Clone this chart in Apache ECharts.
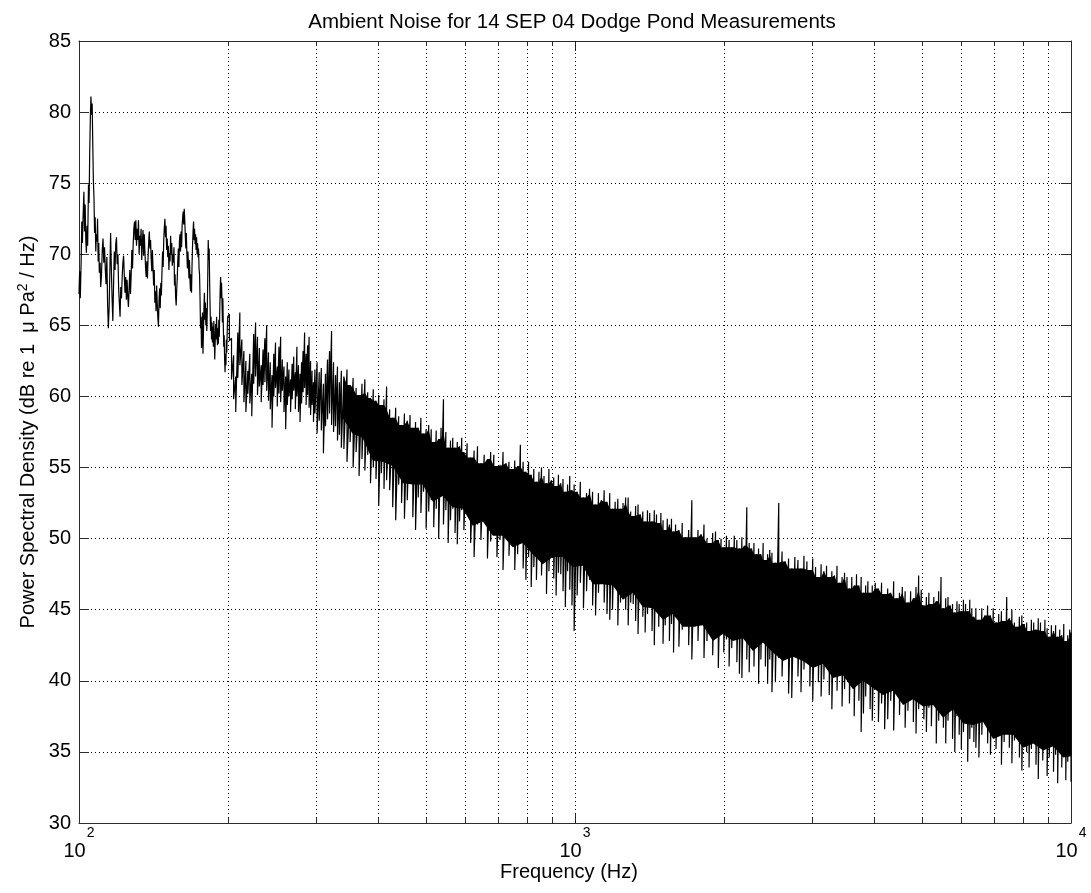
<!DOCTYPE html>
<html>
<head>
<meta charset="utf-8">
<title>Ambient Noise for 14 SEP 04 Dodge Pond Measurements</title>
<script src="https://cdn.jsdelivr.net/npm/echarts@6/dist/echarts.min.js"></script>
<style>
  html, body { margin: 0; padding: 0; background: #ffffff; }
  #chart { width: 1091px; height: 893px; }
</style>
</head>
<body>
<div id="chart"></div>
<script>
// ---- Spectrum below 200 Hz: single trace (Hz, dB re 1 uPa^2/Hz) ----
const lowFreq = [
  100.0,100.3,100.6,101.0,101.3,101.6,101.9,102.3,102.6,102.9,
  103.2,103.5,103.8,104.1,104.5,104.8,105.1,105.4,105.7,106.0,
  106.3,106.6,106.9,107.2,107.5,107.8,108.1,108.4,108.7,109.0,
  109.3,109.6,109.9,110.3,110.6,111.0,111.4,111.8,112.2,112.6,
  113.0,113.4,113.8,114.2,114.6,115.0,115.4,115.8,116.2,116.6,
  117.0,117.4,117.8,118.2,118.6,119.0,119.4,119.8,120.2,120.6,
  121.0,121.4,121.8,122.2,122.6,123.0,123.4,123.8,124.2,124.6,
  125.0,125.4,125.8,126.2,126.6,127.0,127.4,127.8,128.2,128.6,
  129.0,129.4,129.8,130.2,130.6,131.0,131.4,131.8,132.2,132.6,
  133.0,133.4,133.8,134.2,134.6,135.0,135.4,135.8,136.2,136.6,
  137.0,137.4,137.8,138.2,138.6,139.0,139.4,139.8,140.2,140.6,
  141.0,141.4,141.8,142.2,142.6,143.0,143.4,143.8,144.2,144.6,
  145.0,145.4,145.8,146.2,146.6,147.0,147.4,147.8,148.2,148.6,
  149.0,149.4,149.8,150.2,150.6,151.0,151.4,151.8,152.2,152.6,
  153.0,153.4,153.8,154.2,154.6,155.0,155.4,155.8,156.2,156.6,
  157.0,157.4,157.8,158.2,158.6,159.0,159.4,159.8,160.2,160.6,
  161.0,161.4,161.8,162.2,162.6,163.0,163.4,163.8,164.2,164.6,
  165.0,165.4,165.8,166.2,166.6,167.0,167.4,167.8,168.2,168.6,
  169.0,169.4,169.8,170.2,170.6,171.0,171.4,171.8,172.2,172.6,
  173.0,173.4,173.8,174.2,174.6,175.0,175.4,175.8,176.2,176.6,
  177.0,177.4,177.8,178.2,178.6,179.0,179.4,179.8,180.2,180.6,
  181.0,181.4,181.8,182.2,182.6,183.0,183.4,183.8,184.2,184.6,
  185.0,185.4,185.8,186.2,186.6,187.0,187.4,187.8,188.2,188.6,
  189.0,189.4,189.8,190.2,190.6,191.0,191.4,191.8,192.2,192.6,
  193.0,193.4,193.8,194.2,194.6,195.0,195.4,195.8,196.2,196.6,
  197.0,197.4,197.8,198.2,198.6,199.0,199.4
];
const lowDb = [
  67.2,68.8,66.9,69.5,72.3,70.8,72.6,74.4,71.6,73.5,
  71.0,70.1,72.0,70.6,74.9,73.6,77.2,79.5,81.1,79.8,
  80.6,77.8,75.2,74.0,71.5,72.6,70.2,71.4,70.9,72.5,
  69.5,70.8,68.7,69.4,67.7,68.5,70.3,71.1,69.4,70.5,
  68.9,67.9,69.8,66.5,64.8,66.2,68.8,71.5,69.0,66.9,
  65.3,67.8,70.2,68.9,70.7,71.2,69.3,70.0,67.6,66.6,
  65.6,67.7,66.9,68.4,69.4,69.9,68.5,67.3,68.4,66.8,
  68.2,67.0,66.3,67.6,68.9,67.2,68.5,70.3,69.0,70.7,
  71.8,72.3,71.0,72.4,70.6,71.8,71.0,72.4,70.0,71.3,
  70.6,71.8,69.6,70.8,71.7,69.9,71.4,70.2,69.1,68.4,
  69.5,68.3,69.8,70.9,71.6,70.4,71.0,69.7,68.8,70.3,
  69.0,67.8,68.9,66.6,67.4,66.0,67.8,66.5,65.5,64.9,
  66.8,67.6,66.2,68.0,67.1,68.8,70.2,69.1,71.0,71.9,
  72.5,71.2,72.0,70.3,71.1,69.8,70.6,68.9,70.1,69.5,
  71.3,70.0,70.8,69.2,70.0,69.4,70.5,67.8,68.6,67.0,
  66.4,67.5,68.3,69.6,70.4,69.1,70.9,71.4,70.2,71.6,
  70.5,72.0,72.6,73.0,72.1,73.2,72.4,71.3,70.4,71.5,
  70.0,69.0,70.2,69.4,68.3,69.6,68.2,67.4,68.6,67.3,
  69.2,70.6,71.6,72.3,71.0,71.8,70.7,71.4,70.3,71.2,
  70.0,70.8,69.8,70.4,69.0,68.6,66.9,64.8,65.6,63.4,
  64.2,65.9,63.0,64.5,66.2,67.3,65.4,66.6,65.0,66.2,
  64.6,66.0,68.4,71.0,69.6,70.4,68.0,66.2,64.6,65.6,
  64.0,65.2,63.8,64.9,63.5,65.3,64.1,62.6,63.9,65.1,
  64.0,65.6,64.3,63.6,64.8,63.7,65.4,64.2,66.0,67.5,
  68.4,66.9,68.0,66.8,65.2,66.9,65.0,63.5,64.3,62.6,
  61.7,63.0,62.2,64.0,63.1,64.6,65.6
];

// ---- Spectrum from 200 Hz up: local maximum and minimum in each frequency bin ----
const bandFreq = [
  201,203,205,207,209,211,213,215,217,219,221,223,225,227,229,231,233,235,237,239,
  241,243,245,247,249,251,253,255,257,259,261,263,265,267,269,271,273,275,277,279,
  281,283,285,287,289,291,293,295,297,299,302,305,308,311,314,317,320,323,326,329,
  332,335,338,
  342,347,352,357,362,367,372,377,382,387,392,397,402,407,412,417,
  423,429,435,441,447,453,459,465,471,477,483,489,495,501,507,513,519,525,531,537,
  543,549,555,561,567,573,579,585,591,597,
  606,616,626,636,646,656,666,676,686,696,706,716,726,736,746,756,766,776,786,796,
  806,816,826,836,846,856,866,876,886,896,906,916,926,936,946,956,966,976,986,996,
  1010,1025,1040,1055,1070,1085,1100,1115,1130,1145,1160,1175,1190,1205,1220,1235,1250,1265,1280,1295,
  1310,1325,1340,1355,1370,1385,1400,1415,1430,1445,1460,1475,1490,1505,1520,1535,1550,1565,1580,1595,
  1620,1645,1670,1695,1720,1745,1770,1795,1820,1845,1870,1895,1920,1945,1970,1995,2020,2045,2070,2095,
  2120,2145,2170,2195,2220,2245,2270,2295,2320,2345,2370,2395,2420,2445,2470,2495,
  2535,2575,2615,2655,2695,2735,2775,2815,2855,2895,2935,2975,3015,3055,3095,3135,3175,3215,3255,3295,
  3335,3375,3415,3455,3495,3535,3575,3615,3655,3695,3735,3775,3815,3855,3895,3935,3975,
  4030,4090,4150,4210,4270,4330,4390,4450,4510,4570,4630,4690,4750,4810,4870,4930,4990,5050,5110,5170,
  5230,5290,5350,5410,5470,5530,5590,5650,5710,5770,5830,5890,5950,6010,6070,6130,6190,6250,6310,6370,
  6430,6520,6610,6700,6790,6880,6970,7060,7150,7240,7330,7420,7510,7600,7690,7780,7870,7960,8050,8140,
  8230,8320,8410,8500,8590,8680,8770,8860,8950,9040,9130,9220,9310,9400,9490,9580,9670,9760,9850,9940,
  10000
];
const bandTop = [
  65.8,64.1,62.9,61.4,64.5,65.9,64.0,63.2,62.5,61.8,63.0,61.6,64.4,65.2,64.2,63.4,62.2,63.3,64.1,65.0,
  63.1,62.4,61.5,63.0,63.8,62.1,63.5,64.2,62.6,62.1,61.4,62.4,61.9,61.2,62.3,62.8,61.7,63.5,62.2,61.6,
  62.4,63.2,64.5,63.0,63.6,64.2,62.5,61.8,61.0,61.9,62.4,61.7,62.0,60.9,61.6,62.6,63.2,64.6,62.4,61.5,
  62.1,61.0,61.8,
  61.4,61.9,60.8,61.3,60.6,60.1,60.9,61.2,60.3,59.9,60.5,59.7,60.1,59.4,59.8,60.7,
  59.1,58.5,59.2,58.6,58.0,58.8,58.3,58.7,57.8,58.2,57.8,58.5,57.4,57.7,58.0,57.7,56.8,57.6,57.0,57.8,
  59.8,57.5,56.4,56.9,57.1,56.4,56.8,56.5,57.1,56.1,
  56.7,55.7,56.2,56.5,55.3,55.9,55.6,56.1,55.9,55.1,55.2,56.1,55.3,55.4,54.9,55.5,55.1,56.6,55.4,54.7,
  55.4,54.5,54.9,54.0,54.7,55.0,54.4,53.9,54.9,54.1,54.3,53.7,54.5,53.9,54.2,53.3,53.8,54.4,53.4,53.8,
  53.3,54.0,52.9,53.2,53.5,53.3,52.4,53.2,52.7,53.4,52.6,53.2,52.1,52.6,52.8,52.1,52.5,52.9,52.9,51.9,
  51.6,52.3,52.4,51.7,51.9,51.2,52.0,51.8,51.2,52.0,51.7,51.1,51.8,51.3,50.6,51.4,51.0,51.4,50.5,51.0,
  50.6,51.1,50.1,50.6,52.7,50.1,50.6,50.3,51.0,50.0,49.7,50.4,50.5,49.9,50.0,49.4,50.2,49.9,49.4,50.2,
  49.9,49.3,50.1,49.5,52.2,49.7,49.3,49.7,48.9,49.3,48.9,49.7,48.5,48.9,49.2,49.0,
  48.3,52.5,49.1,48.4,48.6,47.9,48.7,48.5,47.9,48.8,48.4,47.8,48.6,48.0,47.3,48.2,47.7,48.1,47.3,47.7,
  47.4,48.1,46.9,47.3,47.6,47.3,46.5,47.3,46.7,47.5,46.7,47.3,46.2,46.7,47.0,46.2,46.7,
  46.9,46.5,46.9,46.1,46.5,46.2,47.0,45.8,46.2,46.6,46.3,45.5,46.3,45.8,46.6,47.4,46.4,45.3,45.9,46.2,
  45.4,45.9,45.6,46.3,47.3,45.1,45.8,45.9,45.3,45.4,44.8,45.6,45.4,44.9,45.7,45.4,44.9,45.7,45.1,44.5,
  45.1,44.3,45.1,44.6,45.3,44.6,45.1,44.1,44.7,44.9,44.2,45.9,44.4,45.0,44.1,43.8,44.5,44.6,44.0,44.1,
  43.5,44.3,44.1,43.6,44.4,44.1,43.5,44.3,43.7,43.1,43.9,43.5,43.9,43.1,43.6,43.2,44.0,42.8,43.2,43.6,
  43.4
];
const bandBottom = [
  63.9,61.2,59.8,58.9,61.3,62.2,60.8,59.6,58.9,60.2,59.5,58.6,60.9,61.4,60.1,60.7,59.6,60.8,61.0,60.4,
  59.7,59.1,57.8,60.0,60.6,59.3,60.2,59.6,60.4,58.9,57.7,59.4,60.0,58.9,59.8,60.4,59.1,60.0,58.9,58.2,
  59.5,60.3,60.6,59.4,60.1,59.2,58.7,59.4,58.2,58.8,57.4,58.3,57.6,56.0,57.9,58.4,58.8,58.0,57.5,57.9,
  56.9,57.3,56.4,
  56.3,55.4,56.8,55.0,56.1,54.4,55.6,54.8,55.9,53.9,55.0,54.2,52.3,54.6,53.5,54.1,
  53.4,52.2,51.3,53.8,52.5,51.4,52.7,54.0,51.5,50.6,52.9,51.8,53.3,50.7,51.9,52.7,50.8,52.1,50.0,53.0,
  51.0,52.0,49.7,51.3,52.1,50.4,49.6,51.2,52.0,50.6,
  52.2,49.7,48.7,51.0,49.9,51.4,48.6,49.8,50.6,48.7,49.9,47.8,50.8,48.8,49.7,47.8,48.9,49.7,47.9,47.1,
  48.7,46.6,48.0,47.1,48.8,47.4,49.1,46.1,47.7,49.1,47.2,46.0,47.6,47.5,46.3,45.2,47.7,46.4,45.3,43.5,
  46.0,46.9,45.1,46.3,47.1,45.3,44.6,46.2,47.0,45.5,44.7,44.3,45.0,46.8,43.9,45.5,46.9,45.0,43.9,45.5,
  45.4,44.2,43.3,45.8,44.5,43.4,44.7,46.0,43.5,42.5,44.9,43.8,45.3,42.6,43.9,44.7,42.8,44.0,42.0,45.0,
  42.4,43.6,45.0,42.5,41.5,43.8,42.8,44.3,41.6,42.8,43.7,41.8,43.0,40.9,44.0,42.0,42.9,41.0,42.3,43.1,
  41.3,40.5,40.2,43.0,41.5,40.6,42.4,41.0,42.8,39.8,41.5,42.9,41.0,39.8,41.5,39.2,
  39.9,41.6,40.3,42.1,39.1,38.8,42.2,40.3,39.2,40.8,41.9,39.6,38.6,41.2,39.9,38.9,40.1,41.4,39.0,38.0,
  40.3,39.3,40.8,38.2,39.4,40.2,38.4,39.6,37.5,40.6,38.6,36.4,37.7,38.9,39.8,38.0,37.2,
  39.8,37.1,38.4,36.6,37.3,38.6,36.5,39.6,37.6,38.6,36.7,37.9,38.8,37.1,36.3,38.0,38.8,37.3,36.4,38.1,
  36.8,38.6,35.6,37.2,38.6,36.7,35.6,37.2,38.3,35.9,35.0,37.5,36.2,35.2,36.4,37.8,34.3,35.9,36.7,35.7,
  35.3,34.6,36.2,37.1,35.6,34.8,36.5,35.2,37.0,34.1,35.7,37.2,35.3,34.2,35.8,36.6,34.6,33.7,36.2,35.0,
  33.9,35.2,36.5,34.1,33.1,35.5,34.4,36.0,33.3,34.6,35.4,33.6,34.8,32.8,35.9,33.9,34.9,33.0,34.3,35.2,
  32.9
];

// ---- Lower edge of the solid part of the band ----
const coreFreq = [
  340,356,373,391,410,429,450,471,493,517,541,567,594,622,652,683,715,749,785,822,
  861,902,945,990,1037,1086,1138,1192,1249,1308,1370,1435,1504,1575,1650,1729,1811,1897,1987,2082,
  2181,2284,2393,2507,2626,2751,2882,3019,3162,3313,3470,3635,3808,3989,4179,4378,4586,4804,5033,5272,
  5523,5785,6061,6349,6651,6967,7299,7646,8010,8391,8790,9208,9646,10000
];
const coreBottom = [
  58.5,57.4,57.1,55.5,55.4,55.1,53.9,53.8,53.8,52.6,53.0,52.2,52.1,50.9,51.2,50.2,50.2,49.4,49.7,48.9,
  48.2,48.7,48.7,48.0,48.1,46.8,46.8,46.7,45.7,46.2,45.2,45.1,44.3,44.7,43.8,43.8,43.9,42.8,43.3,42.8,
  43.0,42.1,42.7,42.0,41.4,41.7,41.4,40.9,41.2,40.2,40.4,39.4,40.0,39.5,39.0,39.3,38.3,38.7,38.2,38.3,
  37.4,38.0,37.0,36.9,37.1,35.9,36.2,36.2,35.3,35.6,35.1,35.4,34.6,34.7
];

// ---- Axes ----
const decadeFreq = [100, 1000, 10000];
const decadeExp  = ['2', '3', '4'];
const gridFreq   = [200,300,400,500,600,700,800,900,1000,2000,3000,4000,5000,6000,7000,8000,9000];
const yMin = 30, yMax = 85, yStep = 5;

const FONT = '"Liberation Sans", Arial, Helvetica, sans-serif';

// Polyline: trace below 200 Hz, then a max -> min stroke for each bin above it
const spectrum = lowFreq.map((f, i) => [f, lowDb[i]]);
bandFreq.forEach((f, i) => {
  spectrum.push([f, bandTop[i]]);
  spectrum.push([f, bandBottom[i]]);
});

const chart = echarts.init(document.getElementById('chart'), null, { renderer: 'canvas' });
const axisColor = '#2b2b2b';

const option = {
  animation: false,
  backgroundColor: '#ffffff',
  title: {
    text: 'Ambient Noise for 14 SEP 04 Dodge Pond Measurements',
    left: 567,
    top: 7,
    textAlign: 'center',
    textStyle: { fontFamily: FONT, fontSize: 20.5, fontWeight: 'normal', color: '#000' }
  },
  grid: { left: 79, right: 20, top: 41, bottom: 70, containLabel: false },
  xAxis: [
    {
      type: 'log', logBase: 10, min: 100, max: 10000, position: 'bottom',
      axisLine: { show: true, onZero: false, lineStyle: { color: axisColor, width: 1 } },
      axisTick: { show: true, inside: true, length: 10, lineStyle: { color: axisColor } },
      splitLine: { show: false },
      axisLabel: {
        margin: 3,
        formatter: (v) => {
          const k = decadeFreq.indexOf(Math.round(v));
          return k < 0 ? '' : '{b|10}{s|' + decadeExp[k] + '}';
        },
        rich: {
          b: { fontFamily: FONT, fontSize: 20, color: '#000', verticalAlign: 'top', lineHeight: 20, padding: [15, 0, 0, 0] },
          s: { fontFamily: FONT, fontSize: 14, color: '#000', verticalAlign: 'top', lineHeight: 14, padding: [0, 0, 0, 1] }
        }
      },
      name: 'Frequency (Hz)',
      nameLocation: 'middle',
      nameGap: 39,
      nameMoveOverlap: false,
      nameTextStyle: { fontFamily: FONT, fontSize: 20, color: '#000', padding: [0, 12, 0, 0] }
    },
    {
      type: 'log', logBase: 10, min: 100, max: 10000, position: 'top',
      axisLine: { show: true, onZero: false, lineStyle: { color: axisColor, width: 1 } },
      axisTick: { show: true, inside: true, length: 10, lineStyle: { color: axisColor } },
      axisLabel: { show: false },
      splitLine: { show: false }
    }
  ],
  yAxis: [
    {
      type: 'value', min: yMin, max: yMax, interval: yStep, position: 'left',
      axisLine: { show: true, onZero: false, lineStyle: { color: axisColor, width: 1 } },
      axisTick: { show: true, inside: true, length: 10, lineStyle: { color: axisColor } },
      axisLabel: { margin: 8, fontFamily: FONT, fontSize: 20, color: '#000' },
      splitLine: { show: true, lineStyle: { color: '#000', width: 1, type: [1, 3] } },
      name: '{t|Power Spectral Density (dB re 1  \u03bc Pa}{s|2}{t| / Hz)}',
      nameLocation: 'middle',
      nameGap: 41,
      nameMoveOverlap: false,
      nameTextStyle: {
        rich: {
          t: { fontFamily: FONT, fontSize: 20, color: '#000', verticalAlign: 'bottom', lineHeight: 22 },
          s: { fontFamily: FONT, fontSize: 14, color: '#000', verticalAlign: 'top', lineHeight: 14, padding: [0, 0, 16, 0] }
        }
      }
    },
    {
      type: 'value', min: yMin, max: yMax, interval: yStep, position: 'right',
      axisLine: { show: true, onZero: false, lineStyle: { color: axisColor, width: 1 } },
      axisTick: { show: true, inside: true, length: 10, lineStyle: { color: axisColor } },
      axisLabel: { show: false },
      splitLine: { show: false }
    }
  ],
  series: [
    {
      // vertical dotted grid at each decade subdivision, with short minor ticks
      type: 'custom',
      xAxisIndex: 0, yAxisIndex: 0,
      silent: true,
      z: 1,
      data: gridFreq.map(f => [f, yMin]),
      renderItem: (params, api) => {
        const f = api.value(0);
        const pb = api.coord([f, yMin]);
        const pt = api.coord([f, yMax]);
        const x = Math.round(pb[0]) + 0.5;
        const kids = [{
          type: 'line',
          shape: { x1: x, y1: pt[1], x2: x, y2: pb[1] },
          style: { stroke: '#000', lineWidth: 1, lineDash: [1, 3] }
        }];
        if (decadeFreq.indexOf(f) < 0) {
          kids.push({ type: 'line', shape: { x1: x, y1: pb[1], x2: x, y2: pb[1] - 5 }, style: { stroke: axisColor, lineWidth: 1 } });
          kids.push({ type: 'line', shape: { x1: x, y1: pt[1], x2: x, y2: pt[1] + 5 }, style: { stroke: axisColor, lineWidth: 1 } });
        }
        return { type: 'group', children: kids };
      }
    },
    {
      // solid body of the band: upper edge is the lowest of neighbouring bin maxima,
      // so that single tall peaks stay thin strokes; lower edge is coreBottom
      type: 'custom',
      xAxisIndex: 0, yAxisIndex: 0,
      silent: true,
      z: 3,
      data: [[coreFreq[0], coreBottom[0]]],
      renderItem: (params, api) => {
        const pts = [];
        const n = bandFreq.length;
        for (let i = 0; i < n; i++) {
          if (bandFreq[i] < coreFreq[0]) continue;
          const top = Math.min(bandTop[Math.max(i - 1, 0)], bandTop[i], bandTop[Math.min(i + 1, n - 1)]);
          pts.push(api.coord([bandFreq[i], top]));
        }
        for (let i = coreFreq.length - 1; i >= 0; i--) pts.push(api.coord([coreFreq[i], coreBottom[i]]));
        return { type: 'polygon', shape: { points: pts }, style: { fill: '#000' } };
      }
    },
    {
      type: 'line',
      xAxisIndex: 0, yAxisIndex: 0,
      data: spectrum,
      showSymbol: false,
      symbol: 'none',
      silent: true,
      z: 4,
      lineStyle: { color: '#000', width: 1.2 }
    }
  ]
};

chart.setOption(option);
</script>
</body>
</html>
